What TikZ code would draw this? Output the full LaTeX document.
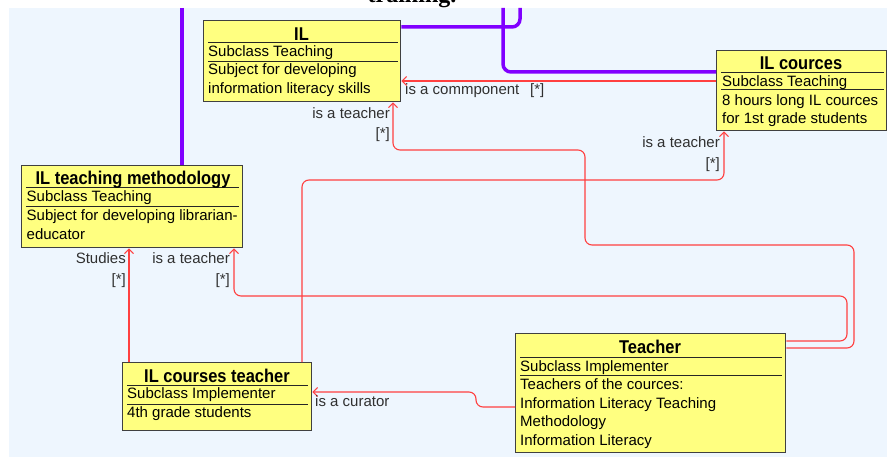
\documentclass[tikz,border=0pt]{standalone}
\usepackage{fontspec}
\setmainfont{Liberation Sans}
\newfontfamily\titlefont{Liberation Sans}[FakeStretch=0.89]
\newfontfamily\capfont{Liberation Serif}
\usetikzlibrary{arrows.meta}

\definecolor{bgblue}{RGB}{238,246,254}
\definecolor{boxyellow}{RGB}{255,255,128}
\definecolor{boxgray}{RGB}{64,64,64}
\definecolor{genpurple}{RGB}{128,0,255}
\definecolor{assocred}{RGB}{255,64,64}
\definecolor{labelgray}{RGB}{48,48,48}

\begin{document}
\begin{tikzpicture}[x=1pt,y=-1pt,
    classbox/.style={draw=boxgray, line width=1.3pt, fill=boxyellow, anchor=north west, inner sep=0pt},
    classtitle/.style={anchor=base, inner sep=0pt, font=\titlefont\bfseries\fontsize{18.5}{20}\selectfont},
    classline/.style={anchor=base west, inner sep=0pt, font=\fontsize{15}{18}\selectfont},
    septline/.style={draw=black!85, line width=1pt},
    genline/.style={draw=genpurple, line width=3.5pt, rounded corners=8pt},
    assocline/.style={draw=assocred, line width=1.1pt, rounded corners=7pt, -{Straight Barb[length=4.5pt,width=9pt]}},
    rolelabel/.style={inner sep=0pt, text=labelgray, font=\fontsize{15}{18}\selectfont}]

% 画布与背景
\useasboundingbox (0,0) rectangle (887,457);
\clip (0,0) rectangle (887,457);
\fill[bgblue] (9,8) rectangle (887,457);
\node[anchor=base, inner sep=0pt, font=\capfont\bfseries\fontsize{24}{28}\selectfont] (caption) at (412,3) {training.};

% 类 IL
\node[classbox, minimum width=197pt, minimum height=81pt] (il) at (203,20) {};
\draw[septline] (208,43) -- (398,43);
\draw[septline] (208,62) -- (398,62);
\node[classtitle] (il-name) at (301.5,40.5) {IL};
\node[classline] (il-sub) at (208,56.5) {Subclass Teaching};
\node[classline] (il-d1) at (208,75) {Subject for developing};
\node[classline] (il-d2) at (208,93.5) {information literacy skills};

% 类 IL cources
\node[classbox, minimum width=170pt, minimum height=80pt] (ilc) at (716,50) {};
\draw[septline] (721,73) -- (884,73);
\draw[septline] (721,90) -- (884,90);
\node[classtitle] (ilc-name) at (801,69.5) {IL cources};
\node[classline] (ilc-sub) at (722,86.5) {Subclass Teaching};
\node[classline] (ilc-d1) at (722,106) {8 hours long IL cources};
\node[classline] (ilc-d2) at (722,124) {for 1st grade students};

% 类 IL teaching methodology
\node[classbox, minimum width=221pt, minimum height=82pt] (ilm) at (21,165) {};
\draw[septline] (26,188) -- (239,188);
\draw[septline] (26,207) -- (239,207);
\node[classtitle] (ilm-name) at (133,185) {IL teaching methodology};
\node[classline] (ilm-sub) at (26.5,202) {Subclass Teaching};
\node[classline] (ilm-d1) at (26.5,221) {Subject for developing librarian-};
\node[classline] (ilm-d2) at (26.5,240) {educator};

% 类 IL courses teacher
\node[classbox, minimum width=189pt, minimum height=68pt] (ilct) at (122,362) {};
\draw[septline] (127,385) -- (308,385);
\draw[septline] (127,404) -- (308,404);
\node[classtitle] (ilct-name) at (217,382) {IL courses teacher};
\node[classline] (ilct-sub) at (127,398.5) {Subclass Implementer};
\node[classline] (ilct-d1) at (127,417) {4th grade students};

% 类 Teacher
\node[classbox, minimum width=270pt, minimum height=119pt] (tch) at (515,333) {};
\draw[septline] (520,357) -- (782,357);
\draw[septline] (520,375) -- (782,375);
\node[classtitle] (tch-name) at (650,353) {Teacher};
\node[classline] (tch-sub) at (520,371) {Subclass Implementer};
\node[classline] (tch-d1) at (520,389.5) {Teachers of the cources:};
\node[classline] (tch-d2) at (520,408) {Information Literacy Teaching};
\node[classline] (tch-d3) at (520,426.5) {Methodology};
\node[classline] (tch-d4) at (520,445) {Information Literacy};

% 继承线（紫色，通向上方的父类）
\coordinate (up1) at (182,8);
\coordinate (up2) at (520,8);
\coordinate (up3) at (503,8);
\draw[genline] (up1) -- (up1 |- ilm.north);
\draw[genline] (up2) |- (il.east |- 0,27);
\draw[genline] (up3) |- (ilc.west |- 0,72);

% 关联线（红色）
\draw[assocline] (ilc.west |- 0,81) -- (il.east |- 0,81);
\node[rolelabel, anchor=base west] (comp-role) at (405,95) {is a commponent};
\node[rolelabel, anchor=base west] (comp-mult) at (530,95) {[*]};

\draw[assocline] (tch.east |- 0,348) -| (854,245) -| (585,150) -| (il.south -| 393,0);
\node[rolelabel, anchor=base east] (il-role) at (390,119) {is a teacher};
\node[rolelabel, anchor=base east] (il-mult) at (390,139) {[*]};

\draw[assocline] (ilct.north -| 302,0) |- (724,180) -- (ilc.south -| 724,0);
\node[rolelabel, anchor=base east] (ilc-role) at (720,148) {is a teacher};
\node[rolelabel, anchor=base east] (ilc-mult) at (720,169) {[*]};

\draw[assocline] (ilct.north -| 129,0) -- (ilm.south -| 129,0);
\node[rolelabel, anchor=base east] (st-role) at (126,264) {Studies};
\node[rolelabel, anchor=base east] (st-mult) at (126,285) {[*]};

\draw[assocline] (tch.east |- 0,341) -| (847,296) -| (ilm.south -| 234,0);
\node[rolelabel, anchor=base east] (ilm-role) at (230,264) {is a teacher};
\node[rolelabel, anchor=base east] (ilm-mult) at (230,285) {[*]};

\draw[assocline] (tch.west |- 0,407) -- (476,407) -- (476,392) -- (ilct.east |- 0,392);
\node[rolelabel, anchor=base west] (cur-role) at (315,406) {is a curator};

\end{tikzpicture}
\end{document}
